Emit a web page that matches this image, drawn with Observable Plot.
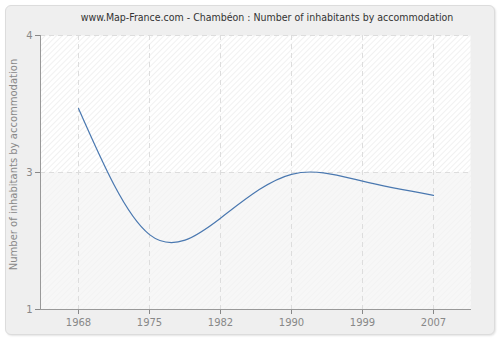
<!DOCTYPE html>
<html>
<head>
<meta charset="utf-8">
<script src="https://cdn.jsdelivr.net/npm/d3@7"></script>
<script src="https://cdn.jsdelivr.net/npm/@observablehq/plot@0.6"></script>
<style>
  html, body { margin: 0; padding: 0; background: #ffffff; }
  #wrap { position: relative; width: 500px; height: 340px; overflow: hidden; font-family: "DejaVu Sans", sans-serif; }
  #panel { position: absolute; left: 5px; top: 5px; width: 488px; height: 328px; background: #efefef; border: 1px solid #dcdcdc; border-radius: 6px; box-shadow: 1px 1px 2px #e4e4e4; }
  #title { position: absolute; left: 0; top: 11px; width: 534px; text-align: center; font-family: "DejaVu Sans Condensed", "DejaVu Sans", sans-serif; font-size: 10.5px; color: #333; white-space: nowrap; }
  #chart { position: absolute; left: 0; top: 0; }
</style>
</head>
<body>
<div id="wrap">
  <div id="panel"></div>
  <div id="chart"></div>
  <div id="title">www.Map-France.com - Chambéon : Number of inhabitants by accommodation</div>
</div>
<script>
const years = ["1968", "1975", "1982", "1990", "1999", "2007"];
const values = [3.2, 1.82, 2.0, 2.48, 2.405, 2.25];
const yTicks = [1, 2.5, 4];
const yTickLabels = ["1", "3", "4"];
const yLabel = "Number of inhabitants by accommodation";

const data = years.map((y, i) => ({year: y, value: values[i]}));
const lowerBand = [{y1: yTicks[0], y2: yTicks[1]}];

const plot = Plot.plot({
  width: 500,
  height: 340,
  marginLeft: 40,
  marginRight: 30,
  marginTop: 35,
  marginBottom: 31,
  style: {background: "transparent", fontFamily: "'DejaVu Sans', sans-serif", fontSize: "10px", color: "#888"},
  x: {type: "point", domain: years, padding: 0.5, label: null},
  y: {domain: [1, 4], label: null},
  marks: [
    Plot.frame({fill: "url(#hatch)", stroke: "none"}),
    Plot.rect(lowerBand, {y1: "y1", y2: "y2", fill: "#f3f3f3", fillOpacity: 0.7}),
    Plot.ruleX(years, {stroke: "#dddddd", strokeDasharray: "5,4", strokeWidth: 1}),
    Plot.ruleY(yTicks.slice(1), {stroke: "#dddddd", strokeDasharray: "5,4", strokeWidth: 1}),
    Plot.axisY(yTicks, {tickSize: 5, tickPadding: 3, stroke: "#888", fill: "#888", fontSize: 10, tickFormat: d => yTickLabels[yTicks.indexOf(d)], label: null}),
    Plot.axisX(years, {tickSize: 5, tickPadding: 4, stroke: "#888", fill: "#888", fontSize: 10, label: null}),
    Plot.frame({anchor: "left", stroke: "#999"}),
    Plot.frame({anchor: "bottom", stroke: "#999"}),
    Plot.line(data, {x: "year", y: "value", curve: "natural", stroke: "#4a78b0", strokeWidth: 1.2}),
    Plot.text([yLabel], {frameAnchor: "left", dx: -27, dy: -8, rotate: -90, textAnchor: "middle", fill: "#888", fontSize: 10, text: d => d})
  ]
});

const defs = d3.select(plot).insert("defs", ":first-child");
const pat = defs.append("pattern").attr("id", "hatch").attr("patternUnits", "userSpaceOnUse")
  .attr("width", 4).attr("height", 4).attr("patternTransform", "rotate(45)");
pat.append("rect").attr("width", 4).attr("height", 4).attr("fill", "#ffffff");
pat.append("line").attr("x1", 0).attr("y1", 0).attr("x2", 0).attr("y2", 4).attr("stroke", "#e9e9e9").attr("stroke-width", 1.2);

document.getElementById("chart").appendChild(plot);
</script>
</body>
</html>
